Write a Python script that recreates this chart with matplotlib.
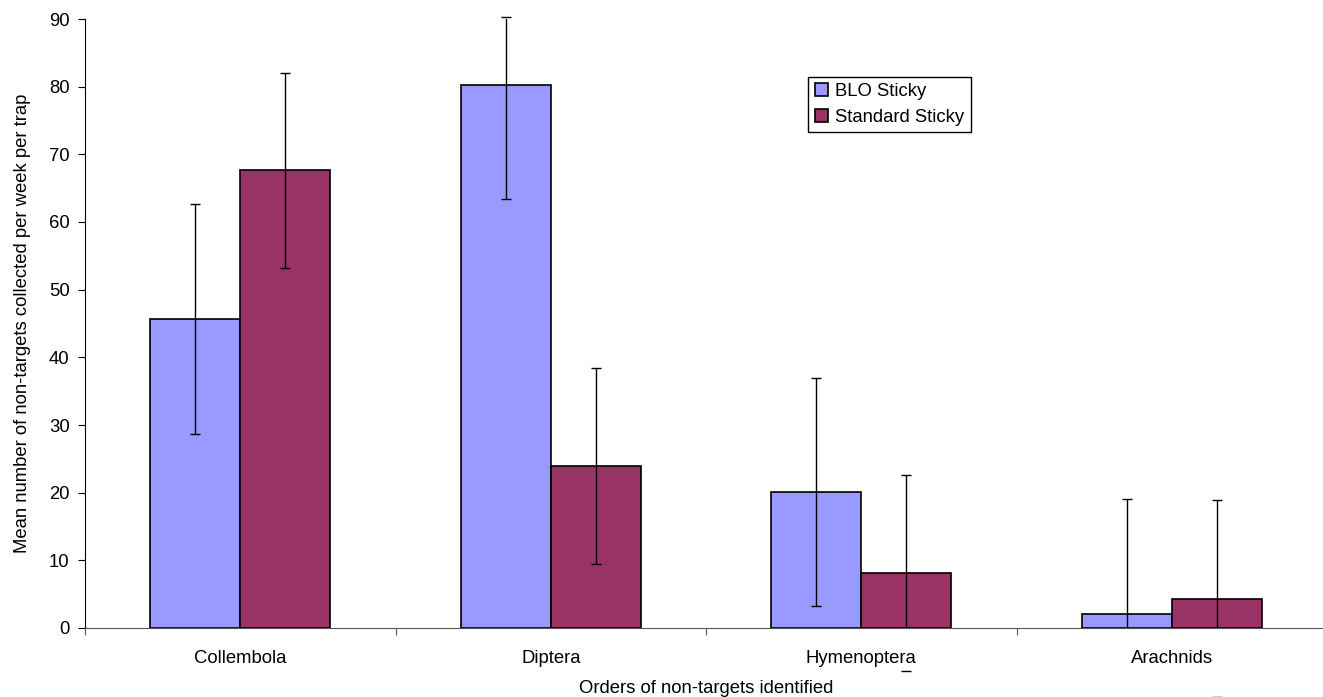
import numpy as np
import matplotlib
matplotlib.use('Agg')
import matplotlib.pyplot as plt

categories = ['Collembola', 'Diptera', 'Hymenoptera', 'Arachnids']
series_names = ['BLO Sticky', 'Standard Sticky']
blo_mean = [45.6, 80.3, 20.1, 2.1]
blo_err_lo = [16.9, 16.9, 16.9, 17.0]
blo_err_hi = [17.1, 10.0, 16.9, 17.0]
std_mean = [67.7, 24.0, 8.2, 4.3]
std_err_lo = [14.5, 14.6, 14.5, 14.5]
std_err_hi = [14.3, 14.4, 14.4, 14.6]
y_ticks = [0, 10, 20, 30, 40, 50, 60, 70, 80, 90]

plt.rc('font', family=['Liberation Sans', 'DejaVu Sans'], size=13.3)

fig = plt.figure(figsize=(13.23, 6.97), dpi=100)
ax = fig.add_axes([85 / 1323, 69 / 697, 1242 / 1323, 609 / 697])

x = np.arange(len(categories))
w = 0.29
colors = ['#9999FF', '#993366']
means = [blo_mean, std_mean]
errs = [(blo_err_lo, blo_err_hi), (std_err_lo, std_err_hi)]
offsets = [-w / 2, w / 2]

for i in range(2):
  ax.bar(x + offsets[i], means[i], w, color=colors[i], edgecolor='black',
         linewidth=1.2, label=series_names[i], zorder=2)
  eb = ax.errorbar(x + offsets[i], means[i], yerr=[errs[i][0], errs[i][1]],
                   fmt='none', ecolor='black', elinewidth=1, capsize=3.7,
                   capthick=1, zorder=3)
  for cap in eb[1]:
    cap.set_clip_on(False)

ax.set_xlim(-0.5, 3.5)
ax.set_ylim(0, 90)
ax.set_yticks(y_ticks)
ax.set_xticks([-0.5, 0.5, 1.5, 2.5, 3.5])
ax.set_xticklabels([])
ax.set_xticks(x, minor=True)
ax.set_xticklabels(categories, minor=True)
ax.tick_params(axis='x', which='minor', length=0, pad=16)
ax.tick_params(axis='x', which='major', length=5, color='#555555')
ax.tick_params(axis='y', length=5, pad=6)

for s in ['top', 'right']:
  ax.spines[s].set_visible(False)
ax.spines['bottom'].set_color('#555555')

ax.set_ylabel('Mean number of non-targets collected per week per trap', labelpad=13)
ax.set_xlabel('Orders of non-targets identified', labelpad=9)

ax.legend(loc='upper left', bbox_to_anchor=(0.575, 0.92), frameon=True,
          fancybox=False, edgecolor='black', framealpha=1, handlelength=0.7,
          handleheight=0.7, handletextpad=0.4, borderpad=0.35, labelspacing=0.45)

fig.savefig('out.png', dpi=100)
